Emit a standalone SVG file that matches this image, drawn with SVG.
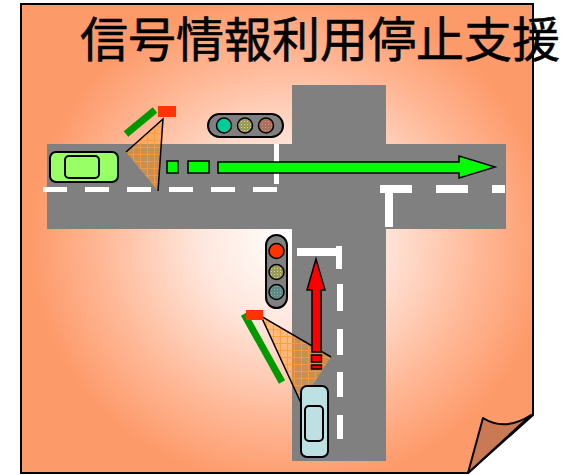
<svg xmlns="http://www.w3.org/2000/svg" width="570" height="475" viewBox="0 0 570 475">
  <style>
    .road { fill: #808080; }
    .mark { fill: #ffffff; }
    .car { stroke: #000; stroke-width: 2; }
    .sig-body { fill: #808080; stroke: #000; stroke-width: 2; }
    .lamp { stroke: #000; stroke-width: 1.5; }
    .cone { fill: url(#hatch); }
    .beam { fill: none; stroke: #000; stroke-width: 1.5; }
    .bar { stroke: #009900; stroke-width: 7; }
    .head { fill: #ff3300; }
    .arrow-g { fill: #00ff00; stroke: #000; stroke-width: 1.5; }
    .arrow-r { fill: #ff0000; stroke: #000; stroke-width: 1.5; }
    .title { font-family: "Noto Sans CJK JP", "Noto Sans CJK SC", sans-serif; font-size: 48px; fill: #000; stroke: #000; stroke-width: 0.6; }
  </style>
  <defs>
    <radialGradient id="paper" gradientUnits="userSpaceOnUse" cx="290" cy="240" r="260" gradientTransform="translate(290 240) scale(1 0.95) translate(-290 -240)">
      <stop offset="0" stop-color="#ffffff"/>
      <stop offset="0.35" stop-color="#ffe6dc"/>
      <stop offset="0.75" stop-color="#ffb592"/>
      <stop offset="1" stop-color="#fd9a6a"/>
    </radialGradient>
    <pattern id="hatch" width="7" height="7" patternUnits="userSpaceOnUse">
      <rect width="7" height="7" fill="#ff9a33" fill-opacity="0.55"/>
      <path d="M0 0.5H7M0.5 0V7" stroke="#ff9933" stroke-width="1" stroke-opacity="0.8"/>
    </pattern>
    <pattern id="dotY" width="3" height="3" patternUnits="userSpaceOnUse">
      <rect width="3" height="3" fill="#9a9a60"/>
      <rect x="1" y="1" width="1" height="1" fill="#e0d860"/>
    </pattern>
    <pattern id="dotR" width="3" height="3" patternUnits="userSpaceOnUse">
      <rect width="3" height="3" fill="#a87060"/>
      <rect x="1" y="1" width="1" height="1" fill="#d89070"/>
    </pattern>
    <pattern id="dotG" width="3" height="3" patternUnits="userSpaceOnUse">
      <rect width="3" height="3" fill="#5f8a84"/>
      <rect x="1" y="1" width="1" height="1" fill="#80b0a8"/>
    </pattern>
  </defs>

  <!-- paper sheet with curled corner -->
  <g id="sheet">
    <path d="M21 4H533V415L468 473H21Z" fill="url(#paper)" stroke="#000" stroke-width="2"/>
    <path d="M468 473L483 418Q505 432 531 415Z" fill="#c97a55" stroke="#000" stroke-width="2" stroke-linejoin="round"/>
  </g>

  <!-- title -->
  <g id="title">
    <text class="title" x="80" y="57">信号情報利用停止支援</text>
  </g>

  <!-- T junction -->
  <g id="roads">
    <rect class="road" x="47" y="144" width="459" height="85"/>
    <rect class="road" x="292" y="85" width="94" height="60"/>
    <rect class="road" x="292" y="228" width="94" height="233"/>
  </g>

  <!-- lane markings -->
  <g id="markings">
    <rect class="mark" x="43" y="187" width="24" height="5"/>
    <rect class="mark" x="85" y="187" width="24" height="5"/>
    <rect class="mark" x="127" y="187" width="24" height="5"/>
    <rect class="mark" x="169" y="187" width="24" height="5"/>
    <rect class="mark" x="211" y="187" width="24" height="5"/>
    <rect class="mark" x="253" y="187" width="24" height="5"/>
    <rect class="mark" x="274" y="144" width="5" height="40"/>

    <rect class="mark" x="380" y="185" width="32" height="8"/>
    <rect class="mark" x="385" y="185" width="8" height="42"/>
    <rect class="mark" x="436" y="185" width="32" height="8"/>
    <rect class="mark" x="492" y="185" width="13" height="8"/>

    <rect class="mark" x="297" y="248" width="44" height="8"/>
    <rect class="mark" x="336" y="246" width="6" height="23"/>
    <rect class="mark" x="337" y="284" width="6" height="27"/>
    <rect class="mark" x="337" y="329" width="6" height="26"/>
    <rect class="mark" x="337" y="372" width="6" height="25"/>
    <rect class="mark" x="337" y="415" width="6" height="24"/>
  </g>

  <!-- horizontal signal -->
  <g id="signal-h">
    <rect class="sig-body" x="208" y="114" width="75" height="23" rx="11.5"/>
    <circle class="lamp" cx="224" cy="125.5" r="7.5" fill="#00cc99"/>
    <circle class="lamp" cx="245" cy="125.5" r="7.5" fill="url(#dotY)"/>
    <circle class="lamp" cx="266" cy="125.5" r="7.5" fill="url(#dotR)"/>
  </g>

  <!-- vertical signal -->
  <g id="signal-v">
    <rect class="sig-body" x="266" y="235" width="21" height="73" rx="10.5"/>
    <circle class="lamp" cx="276.5" cy="251" r="7.5" fill="#ff3300"/>
    <circle class="lamp" cx="276.5" cy="272" r="7.5" fill="url(#dotY)"/>
    <circle class="lamp" cx="276.5" cy="292" r="7.5" fill="url(#dotG)"/>
  </g>

  <!-- roadside sensor, west approach -->
  <g id="sensor-left">
    <path class="cone" d="M163 119L126 152L158 191Z"/>
    <path class="beam" d="M126 152L163 119L158 191"/>
    <line class="bar" x1="126" y1="134" x2="155" y2="110"/>
    <rect class="head" x="158" y="106" width="18" height="11"/>
  </g>

  <!-- roadside sensor, south approach -->
  <g id="sensor-bottom">
    <path class="cone" d="M261 316L331 357L301 403Z"/>
    <path class="beam" d="M331 357L261 316L301 403"/>
    <line class="bar" x1="244" y1="314" x2="282" y2="382"/>
    <rect class="head" x="246" y="310" width="17" height="10"/>
  </g>

  <!-- vehicles -->
  <g id="car-left">
    <rect class="car" x="50" y="152" width="68" height="30" rx="6" fill="#99ff66"/>
    <rect class="car" x="65" y="156" width="34" height="22" rx="4" fill="#99ff66"/>
  </g>
  <g id="car-bottom">
    <rect class="car" x="301" y="386" width="27" height="71" rx="6" fill="#bde0e3"/>
    <rect class="car" x="305" y="406" width="18" height="35" rx="4" fill="#bde0e3"/>
  </g>

  <!-- travel arrows -->
  <g id="arrows">
    <rect class="arrow-g" x="167" y="161" width="11" height="12"/>
    <rect class="arrow-g" x="188" y="161" width="21" height="12"/>
    <path class="arrow-g" d="M218 162H459V156L495 167L459 178V173H218Z"/>

    <path class="arrow-r" d="M316 259L325 290H321V352H312V290H307Z"/>
    <rect class="arrow-r" x="311.5" y="355" width="10" height="7"/>
    <rect class="arrow-r" x="311.5" y="365" width="10" height="4"/>
  </g>
</svg>
